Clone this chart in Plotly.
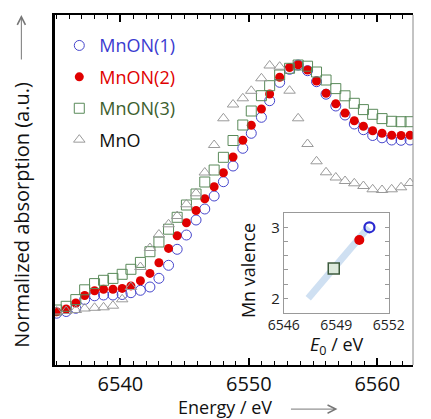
import plotly.graph_objects as go

# ---- data ----
energy = [6535.04, 6535.78, 6536.53, 6537.22, 6537.99, 6538.69, 6539.42, 6540.14, 6540.82, 6541.56,
          6542.30, 6543.00, 6543.75, 6544.42, 6545.14, 6545.89, 6546.57, 6547.30, 6548.02, 6548.77,
          6549.53, 6550.19, 6550.98, 6551.62, 6552.40, 6553.17, 6553.84, 6554.57, 6555.27, 6556.01,
          6556.77, 6557.49, 6558.21, 6558.92, 6559.64, 6560.37, 6561.12, 6561.85, 6562.55]

mnon1 = [0.518, 0.535, 0.567, 0.655, 0.692, 0.700, 0.700, 0.705, 0.723, 0.747,
         0.780, 0.867, 0.997, 1.157, 1.300, 1.450, 1.560, 1.690, 1.833, 1.990,
         2.167, 2.317, 2.477, 2.643, 2.827, 2.957, 3.000, 2.943, 2.833, 2.708,
         2.590, 2.500, 2.410, 2.353, 2.295, 2.272, 2.250, 2.247, 2.250]

mnon2 = [0.533, 0.560, 0.620, 0.695, 0.743, 0.757, 0.758, 0.766, 0.791, 0.843,
         0.916, 1.023, 1.166, 1.292, 1.423, 1.545, 1.663, 1.783, 1.923, 2.080,
         2.248, 2.397, 2.560, 2.710, 2.877, 2.975, 3.002, 2.950, 2.840, 2.718,
         2.613, 2.520, 2.443, 2.387, 2.343, 2.317, 2.298, 2.295, 2.297]

mnon3 = [0.550, 0.587, 0.654, 0.752, 0.814, 0.847, 0.866, 0.907, 0.957, 1.026,
         1.133, 1.230, 1.358, 1.477, 1.600, 1.710, 1.830, 1.950, 2.077, 2.245,
         2.400, 2.540, 2.693, 2.793, 2.900, 2.967, 3.000, 2.988, 2.930, 2.850,
         2.764, 2.692, 2.617, 2.554, 2.507, 2.464, 2.437, 2.433, 2.433]

mno = [0.535, 0.540, 0.550, 0.565, 0.572, 0.577, 0.593, 0.657, 0.780, 0.980,
       1.170, 1.305, 1.407, 1.490, 1.607, 1.717, 1.925, 2.200, 2.467, 2.605,
       2.667, 2.742, 2.867, 2.995, 2.983, 2.743, 2.467, 2.210, 2.037, 1.927,
       1.875, 1.840, 1.817, 1.790, 1.757, 1.750, 1.757, 1.777, 1.820]

x_ticks = [6540, 6550, 6560]

# inset: edge energy E0 vs Mn valence
inset_e0 = [6550.9, 6550.32, 6548.86]
inset_val = [3.0, 2.82, 2.42]
fit_e0 = [6547.4, 6550.85]
fit_val = [2.0, 3.0]
inset_xticks = [6546, 6549, 6552]
inset_yticks = [2, 3]

BLUE = "#4646cc"
RED = "#e00000"
GREEN = "#5a8a5a"
GREY = "#9a9a9a"
FONT = "Open Sans"
TXT = "#111111"

fig = go.Figure()

fig.add_trace(go.Scatter(
    x=energy, y=mnon1, mode="markers",
    name="<span style='color:#3a3ad0'>MnON(1)</span>",
    marker=dict(symbol="circle-open", size=10, color=BLUE, line=dict(width=1)),
    legendgroup="a"))
fig.add_trace(go.Scatter(
    x=energy, y=mnon2, mode="markers",
    name="<span style='color:#e00000'>MnON(2)</span>",
    marker=dict(symbol="circle", size=9, color=RED),
    legendgroup="b"))
fig.add_trace(go.Scatter(
    x=energy, y=mnon3, mode="markers",
    name="<span style='color:#3d5e2e'>MnON(3)</span>",
    marker=dict(symbol="square-open", size=10, color=GREEN, line=dict(width=1)),
    legendgroup="c"))
fig.add_trace(go.Scatter(
    x=energy, y=mno, mode="markers",
    name="<span style='color:#111111'>MnO</span>",
    marker=dict(symbol="triangle-up-open", size=10, color=GREY, line=dict(width=1)),
    legendgroup="d"))

# inset traces
fig.add_trace(go.Scatter(
    x=fit_e0, y=fit_val, mode="lines", xaxis="x2", yaxis="y2",
    line=dict(color="#cfe0f2", width=7), showlegend=False, hoverinfo="skip"))
fig.add_trace(go.Scatter(
    x=inset_e0[2:3], y=inset_val[2:3], mode="markers", xaxis="x2", yaxis="y2",
    marker=dict(symbol="square", size=11, color="#dce9dc", line=dict(color="#3c5a3c", width=1.5)),
    showlegend=False))
fig.add_trace(go.Scatter(
    x=inset_e0[1:2], y=inset_val[1:2], mode="markers", xaxis="x2", yaxis="y2",
    marker=dict(symbol="circle", size=10, color=RED), showlegend=False))
fig.add_trace(go.Scatter(
    x=inset_e0[0:1], y=inset_val[0:1], mode="markers", xaxis="x2", yaxis="y2",
    marker=dict(symbol="circle-open", size=10, color="#2a2ad0", line=dict(width=2.2)),
    showlegend=False))

fig.update_layout(
    width=431, height=419,
    margin=dict(l=55, r=2, t=15, b=54),
    paper_bgcolor="white", plot_bgcolor="white",
    font=dict(family=FONT, color=TXT),
    showlegend=True,
    legend=dict(x=0.012, y=0.965, xanchor="left", yanchor="top",
                font=dict(family=FONT, size=18), bgcolor="rgba(0,0,0,0)",
                tracegroupgap=5, itemsizing="trace"),
    xaxis=dict(range=[6534.91, 6562.78], tickvals=x_ticks, ticks="inside", ticklen=7,
               tickwidth=1.5, tickcolor="black", showline=True, linecolor="black", linewidth=2,
               mirror="ticks", showgrid=False, zeroline=False,
               tickfont=dict(family=FONT, size=20, color=TXT),
               minor=dict(dtick=1, ticks="inside", ticklen=4, tickcolor="black", tickwidth=1,
                          showgrid=False)),
    yaxis=dict(range=[0, 3.5], showticklabels=False, ticks="", showline=True,
               linecolor="black", linewidth=2.5, showgrid=False, zeroline=False),
    xaxis2=dict(domain=[0.639, 0.932], anchor="y2", range=[6546, 6552],
                tickvals=inset_xticks, ticks="", showline=True, linecolor="#999999",
                linewidth=1, mirror=True, showgrid=False, zeroline=False,
                tickfont=dict(family=FONT, size=14, color="#222222")),
    yaxis2=dict(domain=[0.15, 0.434], anchor="x2", range=[1.8, 3.2],
                tickvals=inset_yticks, ticks="inside", ticklen=4, tickcolor="#999999",
                showline=True, linecolor="#999999", linewidth=1, mirror="ticks",
                showgrid=False, zeroline=False,
                tickfont=dict(family=FONT, size=15, color="#222222"),
                minor=dict(dtick=0.2, ticks="inside", ticklen=4, tickcolor="#999999",
                           showgrid=False)),
)

# right edge of main frame (thin grey)
fig.add_shape(type="line", xref="paper", yref="paper", x0=1, x1=1, y0=0, y1=1,
              line=dict(color="#888888", width=1))

ann = []
ann.append(dict(text="Normalized absorption (a.u.)", xref="paper", yref="paper",
                x=-0.094, y=0.43, xanchor="center", yanchor="middle", textangle=-90,
                showarrow=False, font=dict(family=FONT, size=20, color=TXT)))
ann.append(dict(text="", xref="paper", yref="paper", x=-0.094, y=1.0, ax=0, ay=46,
                showarrow=True, arrowhead=5, arrowsize=1.6, arrowwidth=1, arrowcolor="#777777"))
ann.append(dict(text="Energy / eV", xref="paper", yref="paper", x=0.476, y=-0.121,
                xanchor="center", yanchor="middle",
                showarrow=False, font=dict(family=FONT, size=18, color=TXT)))
ann.append(dict(text="", xref="paper", yref="paper", x=0.789, y=-0.126, ax=-48, ay=0,
                showarrow=True, arrowhead=5, arrowsize=1.6, arrowwidth=1, arrowcolor="#777777"))
ann.append(dict(text="Mn valence", xref="paper", yref="paper", x=0.539, y=0.271,
                xanchor="center", yanchor="middle", textangle=-90,
                showarrow=False, font=dict(family=FONT, size=18, color=TXT)))
ann.append(dict(text="<i>E</i><sub>0</sub> / eV", xref="paper", yref="paper", x=0.789, y=0.057,
                xanchor="center", yanchor="middle",
                showarrow=False, font=dict(family=FONT, size=18, color=TXT)))
fig.update_layout(annotations=ann)

fig.write_html("out.html")
